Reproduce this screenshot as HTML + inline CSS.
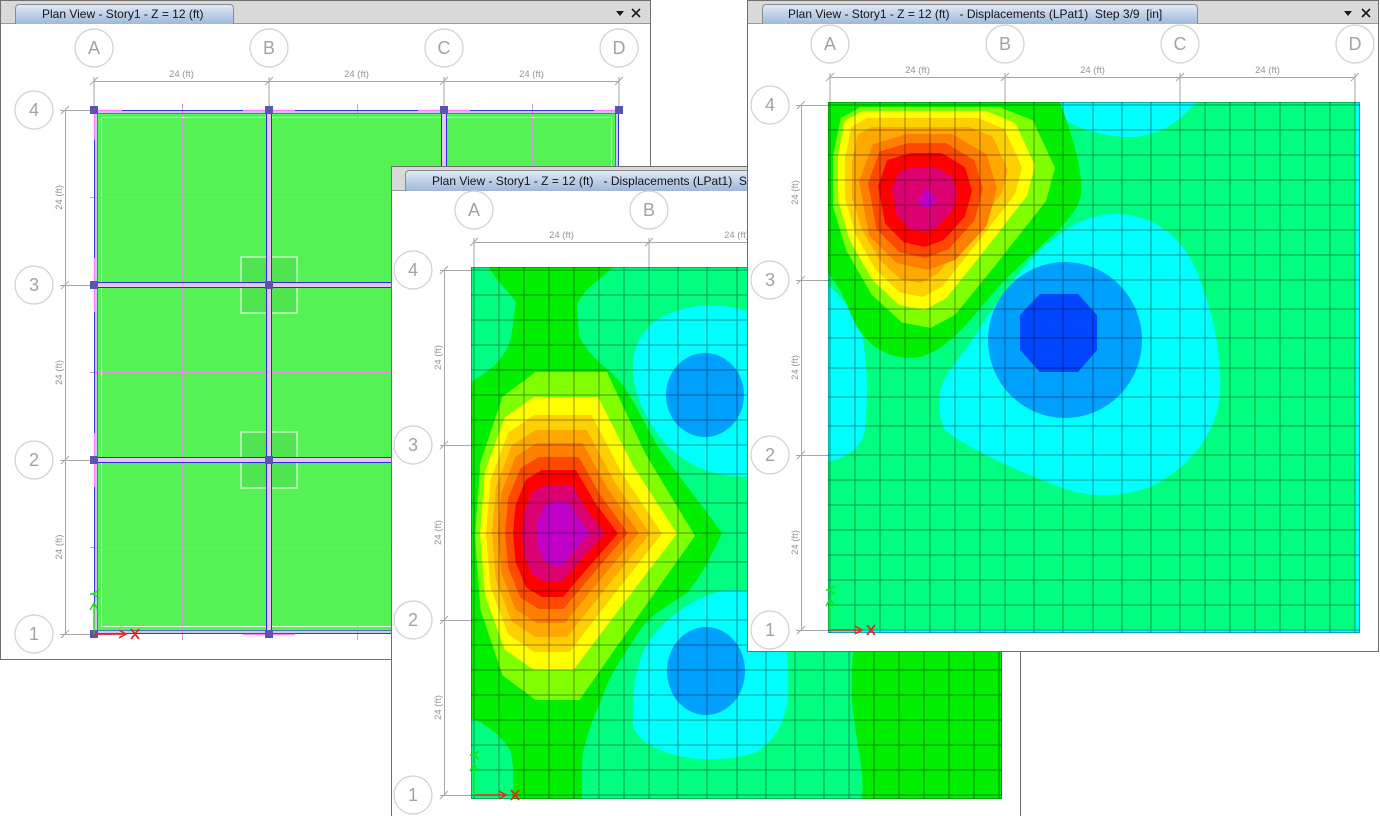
<!DOCTYPE html>
<html><head><meta charset="utf-8">
<style>
html,body{margin:0;padding:0;background:#fff;width:1380px;height:816px;overflow:hidden}
svg{display:block}
text{font-family:"Liberation Sans",Arial,sans-serif}
</style></head><body>
<svg width="1380" height="816" viewBox="0 0 1380 816" xmlns="http://www.w3.org/2000/svg">
<defs>
<linearGradient id="tabg" x1="0" y1="0" x2="0" y2="1">
<stop offset="0" stop-color="#e2ebf6"/><stop offset="0.45" stop-color="#c2d3e9"/><stop offset="1" stop-color="#9fb8d9"/>
</linearGradient>
<polygon id="t2" points="-1,0 -0.95,-0.45 -0.75,-0.85 -0.45,-1 0.2,-1 0.55,-0.5 1,0 0.45,0.52 -0.05,1 -0.45,1 -0.75,0.85 -0.95,0.45"/>
<polygon id="t3" points="-1,-0.55 -0.93,-0.9 -0.75,-1 0.5,-1 0.8,-0.88 1,-0.45 0.92,-0.15 0.45,0.45 0.1,0.88 -0.12,1 -0.38,0.95 -0.65,0.7 -0.88,0.3 -1,-0.1"/>
<polygon id="t3r" points="-1,-0.3 -0.8,-0.85 -0.3,-1 0.35,-1 0.85,-0.7 1,-0.2 0.85,0.35 0.4,0.85 0,1 -0.45,0.9 -0.85,0.5"/>
<clipPath id="c2"><rect x="471" y="267" width="531" height="532"/></clipPath>
<clipPath id="c3"><rect x="828" y="102" width="532" height="531"/></clipPath>
<g id="ax">
<line x1="0" y1="0" x2="32" y2="0" stroke="#ff1a1a" stroke-width="1.4"/>
<polyline points="25,-4 32,0 25,4" fill="none" stroke="#ff1a1a" stroke-width="1.4"/>
<path d="M37,-5 L45,5 M45,-5 L37,5" stroke="#ff1a1a" stroke-width="1.8"/>
<line x1="0" y1="0" x2="0" y2="-31" stroke="#14e014" stroke-width="1.4"/>
<polyline points="-4,-24 0,-31 4,-24" fill="none" stroke="#14e014" stroke-width="1.4"/>
<path d="M-1,-40 L5,-44 M-1,-40 L5,-36 M-1,-40 L-4,-40" fill="none" stroke="#14e014" stroke-width="1.6"/>
</g>
</defs>

<!-- ================= WINDOW 1 ================= -->
<rect x="0.5" y="0.5" width="650" height="659" fill="#fff" stroke="#6e6e6e"/>
<rect x="1" y="1" width="649" height="22" fill="#d9d9d9"/>
<line x1="1" y1="23.5" x2="650" y2="23.5" stroke="#9a9a9a"/>
<path d="M15.5,24 V8.5 Q15.5,4.5 19.5,4.5 H229.5 Q233.5,4.5 233.5,8.5 V24" fill="url(#tabg)" stroke="#8a8a8a"/>
<text x="42" y="18" font-size="12" fill="#141414">Plan View - Story1 - Z = 12 (ft)</text>
<polygon points="616,11 624,11 620,16" fill="#1a1a1a"/>
<path d="M632,9 L640,17 M640,9 L632,17" stroke="#1a1a1a" stroke-width="1.6"/>

<g stroke="#a6a6a6" stroke-width="1" fill="none">
<path d="M94,81.5H619 M94,77V110 M269,77V110 M444,77V110 M619,77V110"/>
<path d="M90,85L98,77 M265,85L273,77 M440,85L448,77 M615,85L623,77"/>
<path d="M65.5,110V634 M60,110.5H94 M60,285.5H94 M60,460.5H94 M60,634.5H94"/>
<path d="M61,114L69,106 M61,289L69,281 M61,464L69,456 M61,638L69,630"/>
</g>
<g fill="#fff" stroke="#d0d0d0" stroke-width="1.2">
<circle cx="94" cy="48" r="19"/><circle cx="269" cy="48" r="19"/><circle cx="444" cy="48" r="19"/><circle cx="619" cy="48" r="19"/>
<circle cx="34" cy="110" r="19"/><circle cx="34" cy="285" r="19"/><circle cx="34" cy="460" r="19"/><circle cx="34" cy="634" r="19"/>
</g>
<g font-size="18" fill="#a3a3a3" text-anchor="middle">
<text x="94" y="54">A</text><text x="269" y="54">B</text><text x="444" y="54">C</text><text x="619" y="54">D</text>
<text x="34" y="116">4</text><text x="34" y="291">3</text><text x="34" y="466">2</text><text x="34" y="640">1</text>
</g>
<g font-size="9.5" fill="#959595" text-anchor="middle">
<text x="181.5" y="77">24 (ft)</text><text x="356.5" y="77">24 (ft)</text><text x="531.5" y="77">24 (ft)</text>
<text x="62" y="197.5" transform="rotate(-90 62 197.5)">24 (ft)</text>
<text x="62" y="372.5" transform="rotate(-90 62 372.5)">24 (ft)</text>
<text x="62" y="547" transform="rotate(-90 62 547)">24 (ft)</text>
</g>

<rect x="94" y="110" width="525" height="524" fill="#c8c8f0"/>
<rect x="97" y="113" width="519" height="518" fill="#55f255"/>
<rect x="101.5" y="117.5" width="510" height="509" fill="none" stroke="#e8ffe8" stroke-width="1"/>
<rect x="241" y="257" width="56" height="56" fill="#000" fill-opacity="0.05" stroke="#fff" stroke-opacity="0.85" stroke-width="1.2"/>
<rect x="241" y="432" width="56" height="56" fill="#000" fill-opacity="0.05" stroke="#fff" stroke-opacity="0.85" stroke-width="1.2"/>
<path d="M182.5,104V640 M357.5,104V640 M532.5,104V640" stroke="#c8a0c8"/>
<path d="M90,197.5H623 M90,372.5H623 M90,547.5H623" stroke="#f08cf0"/>
<rect x="266" y="110" width="6" height="524" fill="#e6c6ea"/>
<rect x="441" y="110" width="6" height="524" fill="#e6c6ea"/>
<rect x="94" y="282" width="525" height="6" fill="#e6c6ea"/>
<rect x="94" y="457" width="525" height="6" fill="#e6c6ea"/>
<path d="M266.5,110V634 M271.5,110V634 M441.5,110V634 M446.5,110V634 M94,282.5H619 M94,287.5H619 M94,457.5H619 M94,462.5H619" stroke="#2a2ae0"/>
<rect x="94.5" y="110.5" width="524" height="523" fill="none" stroke="#3434d8"/>
<rect x="97.5" y="113.5" width="518" height="517" fill="none" stroke="#4a4ad0" stroke-opacity="0.7"/>
<path d="M97,110.5H122 M243,110.5H295 M418,110.5H470 M594,110.5H619 M97,634.5H122 M243,634.5H295 M94.5,113V140 M94.5,258V312 M94.5,433V487 M94.5,606V634" stroke="#ff80ff" stroke-width="1.2"/>
<g fill="#5656b0">
<rect x="90" y="106" width="8" height="8"/><rect x="265" y="106" width="8" height="8"/><rect x="440" y="106" width="8" height="8"/><rect x="615" y="106" width="8" height="8"/>
<rect x="90" y="281" width="8" height="8"/><rect x="265" y="281" width="8" height="8"/><rect x="440" y="281" width="8" height="8"/><rect x="615" y="281" width="8" height="8"/>
<rect x="90" y="456" width="8" height="8"/><rect x="265" y="456" width="8" height="8"/><rect x="440" y="456" width="8" height="8"/><rect x="615" y="456" width="8" height="8"/>
<rect x="90" y="630" width="8" height="8"/><rect x="265" y="630" width="8" height="8"/><rect x="440" y="630" width="8" height="8"/><rect x="615" y="630" width="8" height="8"/>
</g>
<use href="#ax" x="94" y="634"/>

<!-- ================= WINDOW 2 ================= -->
<rect x="391.5" y="166.5" width="629" height="660" fill="#fff" stroke="#6e6e6e"/>
<rect x="392" y="167" width="628" height="23" fill="#d9d9d9"/>
<line x1="392" y1="190.5" x2="1020" y2="190.5" stroke="#9a9a9a"/>
<path d="M405.5,191 V174.5 Q405.5,170.5 409.5,170.5 H800 V191" fill="url(#tabg)" stroke="#8a8a8a"/>
<text x="432" y="185" font-size="12" fill="#141414">Plan View - Story1 - Z = 12 (ft)&#160;&#160; - Displacements (LPat1)&#160; Step 3/9&#160; [in]</text>

<g stroke="#a6a6a6" stroke-width="1" fill="none">
<path d="M474,242.5H999 M474,238V270 M649,238V270 M824,238V270 M999,238V270"/>
<path d="M470,246L478,238 M645,246L653,238 M820,246L828,238 M995,246L1003,238"/>
<path d="M444.5,270V795 M440,270.5H474 M440,445.5H474 M440,620.5H474 M440,795.5H474"/>
<path d="M440,274L448,266 M440,449L448,441 M440,624L448,616 M440,799L448,791"/>
</g>
<g fill="#fff" stroke="#d0d0d0" stroke-width="1.2">
<circle cx="474" cy="210" r="19"/><circle cx="649" cy="210" r="19"/><circle cx="824" cy="210" r="19"/><circle cx="999" cy="210" r="19"/>
<circle cx="413" cy="270" r="19"/><circle cx="413" cy="445" r="19"/><circle cx="413" cy="620" r="19"/><circle cx="413" cy="795" r="19"/>
</g>
<g font-size="18" fill="#a3a3a3" text-anchor="middle">
<text x="474" y="216">A</text><text x="649" y="216">B</text><text x="824" y="216">C</text><text x="999" y="216">D</text>
<text x="413" y="276">4</text><text x="413" y="451">3</text><text x="413" y="626">2</text><text x="413" y="801">1</text>
</g>
<g font-size="9.5" fill="#959595" text-anchor="middle">
<text x="561.5" y="238">24 (ft)</text><text x="736.5" y="238">24 (ft)</text><text x="911.5" y="238">24 (ft)</text>
<text x="441" y="357.5" transform="rotate(-90 441 357.5)">24 (ft)</text>
<text x="441" y="532.5" transform="rotate(-90 441 532.5)">24 (ft)</text>
<text x="441" y="707.5" transform="rotate(-90 441 707.5)">24 (ft)</text>
</g>

<g clip-path="url(#c2)">
<rect x="471" y="267" width="531" height="532" fill="#00ff80"/>
<path d="M633,362 C636,330 660,310 700,306 C730,304 750,310 765,320 L765,476 C740,478 720,475 705,470 C685,462 668,450 655,430 C642,410 632,390 633,362 Z" fill="#00ffff"/>
<ellipse cx="705" cy="395" rx="39" ry="42" fill="#00a0ff"/>
<path d="M633,725 C632,690 636,660 650,640 C665,620 690,598 722,591 C745,588 765,592 778,610 C787,630 789,670 788,697 C786,720 775,740 757,752 C735,760 700,762 675,755 C650,748 636,738 633,725 Z" fill="#00ffff"/>
<ellipse cx="706" cy="671" rx="39" ry="44" fill="#00a0ff"/>
<path d="M1002,560 L880,560 C858,600 850,650 852,700 C855,740 865,770 862,799 L1002,799 Z" fill="#00ee00"/>
<path d="M471,382 C488,372 505,360 511,338 L516,302 C508,290 495,280 489,267 L613,267 C600,280 582,290 577,305 L579,336 C588,356 606,366 622,384 C634,400 645,425 657,445 C670,465 692,492 722,533 C712,555 700,578 688,592 C670,605 650,615 640,630 C628,650 615,665 605,690 C598,710 586,730 582,760 L582,799 L512,799 C514,780 514,765 510,750 C500,735 488,725 471,718 Z" fill="#00ee00"/>
<use href="#t2" transform="translate(585 536) scale(110 164)" fill="#80ff00"/>
<use href="#t2" transform="translate(578.5 533.5) scale(98.5 136.5)" fill="#ffff00"/>
<use href="#t2" transform="translate(574 533.5) scale(88 118.5)" fill="#ffd000"/>
<use href="#t2" transform="translate(571 533.5) scale(79 103.5)" fill="#ffa800"/>
<use href="#t2" transform="translate(568.5 533) scale(70.5 90)" fill="#ff8000"/>
<use href="#t2" transform="translate(566.5 533) scale(61.5 76)" fill="#ff4800"/>
<use href="#t2" transform="translate(565.5 533.5) scale(52.5 63.5)" fill="#ff0000"/>
<use href="#t2" transform="translate(563.5 533.5) scale(41.5 48.5)" fill="#dc0070"/>
<use href="#t2" transform="translate(563.5 533.5) scale(26.5 31.5)" fill="#c000c8"/>
<path d="M474,267V799M499,267V799M524,267V799M549,267V799M574,267V799M599,267V799M624,267V799M649,267V799M678,267V799M707,267V799M737,267V799M766,267V799M795,267V799M824,267V799M849,267V799M874,267V799M899,267V799M924,267V799M949,267V799M974,267V799M999,267V799M471,270H1002M471,295H1002M471,320H1002M471,345H1002M471,370H1002M471,395H1002M471,420H1002M471,445H1002M471,474H1002M471,503H1002M471,533H1002M471,562H1002M471,591H1002M471,620H1002M471,645H1002M471,670H1002M471,695H1002M471,720H1002M471,745H1002M471,770H1002M471,795H1002" stroke="#000" stroke-opacity="0.42" stroke-width="1" fill="none"/>
<rect x="471.5" y="267.5" width="530" height="531" fill="none" stroke="#000" stroke-opacity="0.3"/>
</g>
<use href="#ax" x="474" y="795"/>

<!-- ================= WINDOW 3 ================= -->
<rect x="747.5" y="0.5" width="631" height="651" fill="#fff" stroke="#6e6e6e"/>
<rect x="748" y="1" width="630" height="22" fill="#d9d9d9"/>
<line x1="748" y1="23.5" x2="1378" y2="23.5" stroke="#9a9a9a"/>
<path d="M762.5,24 V8.5 Q762.5,4.5 766.5,4.5 H1193.5 Q1197.5,4.5 1197.5,8.5 V24" fill="url(#tabg)" stroke="#8a8a8a"/>
<text x="788" y="18" font-size="12" fill="#141414">Plan View - Story1 - Z = 12 (ft)&#160;&#160; - Displacements (LPat1)&#160; Step 3/9&#160; [in]</text>
<polygon points="1344,11 1352,11 1348,16" fill="#1a1a1a"/>
<path d="M1362,9 L1370,17 M1370,9 L1362,17" stroke="#1a1a1a" stroke-width="1.6"/>

<g stroke="#a6a6a6" stroke-width="1" fill="none">
<path d="M830,77.5H1355 M830,73V102 M1005,73V102 M1180,73V102 M1355,73V102"/>
<path d="M826,81L834,73 M1001,81L1009,73 M1176,81L1184,73 M1351,81L1359,73"/>
<path d="M801.5,105V630 M796,105.5H828 M796,280.5H828 M796,455.5H828 M796,630.5H828"/>
<path d="M797,109L805,101 M797,284L805,276 M797,459L805,451 M797,634L805,626"/>
</g>
<g fill="#fff" stroke="#d0d0d0" stroke-width="1.2">
<circle cx="830" cy="44" r="19"/><circle cx="1005" cy="44" r="19"/><circle cx="1180" cy="44" r="19"/><circle cx="1355" cy="44" r="19"/>
<circle cx="770" cy="105" r="19"/><circle cx="770" cy="280" r="19"/><circle cx="770" cy="455" r="19"/><circle cx="770" cy="630" r="19"/>
</g>
<g font-size="18" fill="#a3a3a3" text-anchor="middle">
<text x="830" y="50">A</text><text x="1005" y="50">B</text><text x="1180" y="50">C</text><text x="1355" y="50">D</text>
<text x="770" y="111">4</text><text x="770" y="286">3</text><text x="770" y="461">2</text><text x="770" y="636">1</text>
</g>
<g font-size="9.5" fill="#959595" text-anchor="middle">
<text x="917.5" y="73">24 (ft)</text><text x="1092.5" y="73">24 (ft)</text><text x="1267.5" y="73">24 (ft)</text>
<text x="798" y="192.5" transform="rotate(-90 798 192.5)">24 (ft)</text>
<text x="798" y="367.5" transform="rotate(-90 798 367.5)">24 (ft)</text>
<text x="798" y="542.5" transform="rotate(-90 798 542.5)">24 (ft)</text>
</g>

<g clip-path="url(#c3)">
<rect x="828" y="102" width="532" height="531" fill="#00ff80"/>
<path d="M1035,102 C1058,118 1085,135 1125,137 C1158,138 1180,122 1196,102 Z" fill="#00ffff"/>
<path d="M828,285 C842,298 858,315 863,340 C868,370 868,410 864,435 C858,450 845,458 828,462 Z" fill="#00ffff"/>
<rect x="1355" y="102" width="5" height="531" fill="#00ffff"/>
<rect x="828" y="630" width="532" height="3" fill="#00ffff"/>
<path d="M1110,214 C1150,212 1185,235 1200,280 C1215,320 1222,360 1220,395 C1215,440 1185,470 1150,487 C1120,498 1090,498 1060,487 C1020,472 970,450 945,430 C935,410 938,385 950,370 C975,340 1000,290 1040,250 C1065,228 1085,216 1110,214 Z" fill="#00ffff"/>
<ellipse cx="1065" cy="340" rx="77" ry="78" fill="#00a0ff"/>
<polygon points="1040,294 1078,294 1097,315 1097,350 1078,372 1040,372 1020,350 1020,315" fill="#0046ff"/>
<path d="M828,102 L1060,102 C1070,130 1083,165 1081,195 C1078,218 1040,245 1005,280 C980,305 955,348 920,357 C890,362 862,345 850,312 C842,292 835,280 828,274 Z" fill="#00ee00"/>
<use href="#t3" transform="translate(944 217.5) scale(111 110.5)" fill="#80ff00"/>
<use href="#t3" transform="translate(936.5 210.5) scale(98.5 99.5)" fill="#ffff00"/>
<use href="#t3" transform="translate(933.5 207.5) scale(88.5 89.5)" fill="#ffd000"/>
<use href="#t3" transform="translate(930 205) scale(78 78)" fill="#ffa800"/>
<use href="#t3r" transform="translate(928 202) scale(69 68)" fill="#ff8000"/>
<use href="#t3r" transform="translate(925.5 200.5) scale(57.5 57.5)" fill="#ff4800"/>
<use href="#t3r" transform="translate(925 200) scale(47 47)" fill="#ff0000"/>
<use href="#t3r" transform="translate(924.5 199.5) scale(32.5 32.5)" fill="#dc0070"/>
<polygon points="917,203 927,187 937,201 928,209" fill="#c000c8"/>
<path d="M830,102V633M855,102V633M880,102V633M905,102V633M930,102V633M955,102V633M980,102V633M1005,102V633M1034,102V633M1063,102V633M1093,102V633M1122,102V633M1151,102V633M1180,102V633M1205,102V633M1230,102V633M1255,102V633M1280,102V633M1305,102V633M1330,102V633M1355,102V633M828,105H1360M828,130H1360M828,155H1360M828,180H1360M828,205H1360M828,230H1360M828,255H1360M828,280H1360M828,309H1360M828,338H1360M828,368H1360M828,397H1360M828,426H1360M828,455H1360M828,480H1360M828,505H1360M828,530H1360M828,555H1360M828,580H1360M828,605H1360M828,630H1360" stroke="#000" stroke-opacity="0.42" stroke-width="1" fill="none"/>
<rect x="828.5" y="102.5" width="531" height="530" fill="none" stroke="#000" stroke-opacity="0.3"/>
</g>
<use href="#ax" x="830" y="630"/>
</svg>
</body></html>
